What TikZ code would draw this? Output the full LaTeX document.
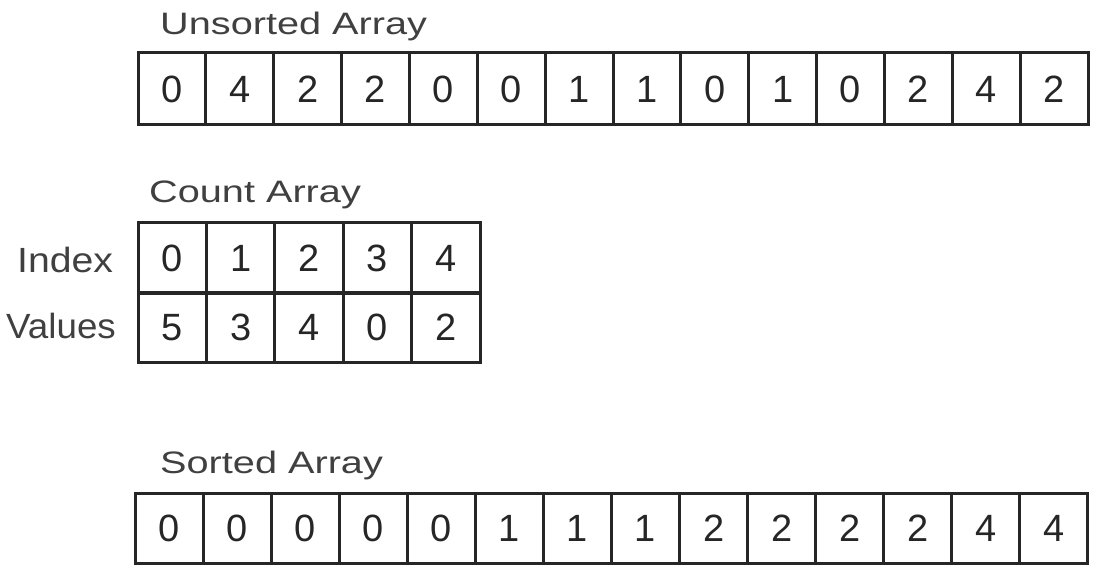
\documentclass[tikz,border=0pt]{standalone}
\usepackage{fontspec}
\setmainfont{Liberation Sans}
\begin{document}
\begin{tikzpicture}[x=1pt,y=-1pt,
  cell/.style={draw=black!85, line width=3pt, inner sep=0pt, minimum height=70pt,
    font=\fontsize{38}{38}\selectfont, text=black!85},
  title/.style={inner sep=0pt, anchor=base west, text=black!75,
    font=\fontsize{31}{31}\selectfont},
  rowlabel/.style={inner sep=0pt, anchor=base west, text=black!75,
    font=\fontsize{35}{35}\selectfont}]
\useasboundingbox (0,0) rectangle (1100,572);
% titles
\node[title] (tu) at (160,35) {\scalebox{1.28}[1]{Unsorted Array}};
\node[title] (tc) at (149,203) {\scalebox{1.28}[1]{Count Array}};
\node[title] (ts) at (160,473) {\scalebox{1.28}[1]{Sorted Array}};
% unsorted array
\foreach \v [count=\i from 0] in {0,4,2,2,0,0,1,1,0,1,0,2,4,2}
  \node[cell, minimum width=67.86pt, minimum height=72pt] (u\i) at ({138+67.86*(\i+0.5)},89) {\v};
% count array
\foreach \v [count=\i from 0] in {0,1,2,3,4}
  \node[cell, minimum width=68.4pt] (ci\i) at ({138+68.4*(\i+0.5)},258) {\v};
\foreach \v [count=\i from 0] in {5,3,4,0,2}
  \node[cell, minimum width=68.4pt] (cv\i) at ({138+68.4*(\i+0.5)},327.5) {\v};
\node[rowlabel] (lidx) at (17,272) {\scalebox{1.12}[1]{Index}};
\node[rowlabel] (lval) at (6,338) {\scalebox{1.05}[1]{Values}};
% sorted array
\foreach \v [count=\i from 0] in {0,0,0,0,0,1,1,1,2,2,2,2,4,4}
  \node[cell, minimum width=68.07pt] (s\i) at ({135+68.07*(\i+0.5)},528) {\v};
\end{tikzpicture}
\end{document}
